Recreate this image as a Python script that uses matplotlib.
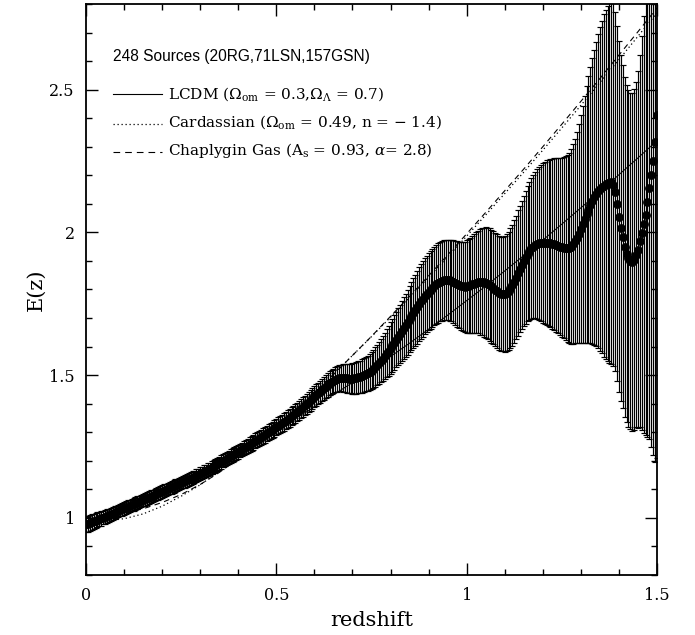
import matplotlib
matplotlib.use("Agg")
import matplotlib.pyplot as plt
import numpy as np
from matplotlib.ticker import MultipleLocator

# ---------------- data ----------------
z_step = 0.005  # reconstruction grid spacing in redshift

center = [
    0.978, 0.980, 0.983, 0.985, 0.988, 0.990, 0.993, 0.995, 0.998, 1.001,
    1.004, 1.006, 1.009, 1.012, 1.015, 1.018, 1.021, 1.024, 1.027, 1.030,
    1.033, 1.036, 1.039, 1.042, 1.045, 1.047, 1.050, 1.053, 1.056, 1.059,
    1.062, 1.065, 1.068, 1.071, 1.074, 1.077, 1.080, 1.083, 1.086, 1.089,
    1.092, 1.095, 1.098, 1.101, 1.104, 1.107, 1.110, 1.113, 1.116, 1.119,
    1.122, 1.125, 1.128, 1.131, 1.135, 1.138, 1.141, 1.144, 1.148, 1.151,
    1.155, 1.158, 1.162, 1.165, 1.169, 1.172, 1.176, 1.180, 1.184, 1.188,
    1.192, 1.196, 1.200, 1.204, 1.208, 1.212, 1.216, 1.220, 1.224, 1.228,
    1.232, 1.236, 1.240, 1.244, 1.248, 1.252, 1.257, 1.261, 1.265, 1.270,
    1.274, 1.278, 1.282, 1.287, 1.291, 1.296, 1.300, 1.305, 1.309, 1.314,
    1.318, 1.323, 1.327, 1.332, 1.336, 1.341, 1.346, 1.351, 1.356, 1.361,
    1.366, 1.371, 1.377, 1.382, 1.388, 1.394, 1.400, 1.406, 1.412, 1.418,
    1.424, 1.430, 1.436, 1.442, 1.448, 1.454, 1.460, 1.466, 1.471, 1.476,
    1.480, 1.484, 1.487, 1.489, 1.490, 1.490, 1.490, 1.489, 1.488, 1.488,
    1.488, 1.489, 1.490, 1.492, 1.494, 1.497, 1.500, 1.503, 1.507, 1.511,
    1.516, 1.522, 1.528, 1.535, 1.542, 1.550, 1.558, 1.567, 1.576, 1.585,
    1.595, 1.604, 1.614, 1.624, 1.634, 1.644, 1.654, 1.664, 1.675, 1.685,
    1.696, 1.706, 1.717, 1.727, 1.738, 1.748, 1.758, 1.767, 1.776, 1.784,
    1.792, 1.799, 1.806, 1.812, 1.818, 1.823, 1.827, 1.830, 1.832, 1.833,
    1.834, 1.833, 1.831, 1.828, 1.824, 1.820, 1.816, 1.813, 1.811, 1.810,
    1.811, 1.813, 1.815, 1.818, 1.821, 1.824, 1.826, 1.827, 1.827, 1.826,
    1.824, 1.821, 1.817, 1.812, 1.806, 1.800, 1.794, 1.789, 1.785, 1.784,
    1.784, 1.788, 1.795, 1.804, 1.815, 1.828, 1.842, 1.857, 1.872, 1.886,
    1.900, 1.913, 1.925, 1.935, 1.944, 1.950, 1.956, 1.959, 1.962, 1.963,
    1.964, 1.964, 1.964, 1.963, 1.962, 1.960, 1.958, 1.955, 1.953, 1.950,
    1.948, 1.946, 1.944, 1.944, 1.945, 1.950, 1.958, 1.969, 1.982, 1.996,
    2.012, 2.029, 2.046, 2.063, 2.080, 2.095, 2.110, 2.123, 2.134, 2.144,
    2.152, 2.159, 2.164, 2.168, 2.172, 2.174, 2.175, 2.167, 2.143, 2.100,
    2.055, 2.015, 1.985, 1.950, 1.925, 1.910, 1.900, 1.898, 1.905, 1.922,
    1.940, 1.970, 1.997, 2.028, 2.062, 2.105, 2.155, 2.200, 2.250, 2.315,
    2.410,
]

sigma = [
    0.029, 0.028, 0.028, 0.027, 0.027, 0.026, 0.026, 0.025, 0.025, 0.024,
    0.024, 0.024, 0.023, 0.023, 0.023, 0.023, 0.022, 0.022, 0.022, 0.022,
    0.022, 0.022, 0.022, 0.022, 0.022, 0.022, 0.022, 0.022, 0.022, 0.022,
    0.022, 0.022, 0.022, 0.022, 0.022, 0.022, 0.022, 0.022, 0.022, 0.022,
    0.022, 0.022, 0.022, 0.022, 0.022, 0.022, 0.022, 0.022, 0.022, 0.022,
    0.022, 0.022, 0.022, 0.022, 0.022, 0.022, 0.022, 0.022, 0.022, 0.022,
    0.022, 0.022, 0.022, 0.022, 0.022, 0.022, 0.022, 0.022, 0.023, 0.023,
    0.023, 0.023, 0.023, 0.023, 0.023, 0.023, 0.024, 0.024, 0.024, 0.024,
    0.024, 0.024, 0.024, 0.025, 0.025, 0.025, 0.025, 0.025, 0.026, 0.026,
    0.026, 0.026, 0.027, 0.027, 0.027, 0.027, 0.028, 0.028, 0.028, 0.029,
    0.029, 0.029, 0.030, 0.030, 0.030, 0.031, 0.031, 0.031, 0.032, 0.032,
    0.032, 0.033, 0.033, 0.033, 0.034, 0.034, 0.035, 0.035, 0.036, 0.036,
    0.037, 0.038, 0.038, 0.039, 0.039, 0.040, 0.040, 0.041, 0.042, 0.042,
    0.043, 0.044, 0.045, 0.046, 0.047, 0.048, 0.049, 0.050, 0.051, 0.052,
    0.053, 0.054, 0.055, 0.056, 0.057, 0.058, 0.059, 0.060, 0.061, 0.063,
    0.065, 0.067, 0.069, 0.071, 0.073, 0.075, 0.078, 0.081, 0.084, 0.087,
    0.090, 0.092, 0.095, 0.097, 0.100, 0.103, 0.105, 0.108, 0.110, 0.113,
    0.116, 0.119, 0.122, 0.125, 0.128, 0.130, 0.131, 0.132, 0.133, 0.134,
    0.135, 0.136, 0.137, 0.137, 0.138, 0.139, 0.139, 0.140, 0.140, 0.141,
    0.141, 0.142, 0.143, 0.145, 0.147, 0.150, 0.152, 0.154, 0.156, 0.158,
    0.162, 0.164, 0.167, 0.170, 0.172, 0.176, 0.180, 0.185, 0.188, 0.191,
    0.194, 0.196, 0.197, 0.198, 0.198, 0.199, 0.199, 0.200, 0.200, 0.201,
    0.203, 0.205, 0.207, 0.210, 0.212, 0.215, 0.217, 0.220, 0.222, 0.225,
    0.229, 0.233, 0.237, 0.241, 0.246, 0.250, 0.256, 0.262, 0.268, 0.274,
    0.280, 0.284, 0.288, 0.292, 0.295, 0.298, 0.301, 0.304, 0.307, 0.310,
    0.313, 0.317, 0.322, 0.328, 0.334, 0.341, 0.350, 0.358, 0.368, 0.382,
    0.398, 0.415, 0.432, 0.450, 0.467, 0.484, 0.500, 0.516, 0.533, 0.550,
    0.567, 0.583, 0.600, 0.612, 0.622, 0.630, 0.635, 0.635, 0.630, 0.622,
    0.615, 0.607, 0.600, 0.595, 0.590, 0.590, 0.590, 0.592, 0.596, 0.605,
    0.625, 0.650, 0.690, 0.730, 0.770, 0.820, 0.880, 0.950, 1.030, 1.120,
    1.200,
]

z_model = [0.00, 0.05, 0.10, 0.15, 0.20, 0.25, 0.30, 0.35, 0.40, 0.45,
           0.50, 0.55, 0.60, 0.65, 0.70, 0.75, 0.80, 0.85, 0.90, 0.95,
           1.00, 1.05, 1.10, 1.15, 1.20, 1.25, 1.30, 1.35, 1.40, 1.45, 1.50]
lcdm = [1.000, 1.023, 1.048, 1.075, 1.104, 1.134, 1.166, 1.199, 1.234, 1.271,
        1.309, 1.348, 1.389, 1.431, 1.474, 1.519, 1.565, 1.612, 1.661, 1.710,
        1.761, 1.812, 1.865, 1.919, 1.973, 2.029, 2.086, 2.143, 2.202, 2.261, 2.321]
cardassian = [1.000, 0.991, 0.997, 1.014, 1.041, 1.076, 1.116, 1.162, 1.212, 1.265,
              1.322, 1.380, 1.442, 1.504, 1.569, 1.635, 1.703, 1.772, 1.843, 1.914,
              1.987, 2.061, 2.136, 2.211, 2.288, 2.366, 2.445, 2.525, 2.605, 2.687, 2.769]
chaplygin = [1.000, 1.007, 1.017, 1.032, 1.054, 1.082, 1.117, 1.159, 1.207, 1.259,
             1.316, 1.375, 1.438, 1.502, 1.569, 1.636, 1.706, 1.776, 1.848, 1.921,
             1.995, 2.070, 2.146, 2.222, 2.300, 2.379, 2.459, 2.539, 2.621, 2.703, 2.786]

x_ticks = [0, 0.5, 1, 1.5]
x_ticklabels = ["0", "0.5", "1", "1.5"]
y_ticks = [1, 1.5, 2, 2.5]
y_ticklabels = ["1", "1.5", "2", "2.5"]

title_text = "248 Sources (20RG,71LSN,157GSN)"
legend_labels = [
    r"LCDM ($\Omega_{\rm om}$ = 0.3,$\Omega_{\Lambda}$ = 0.7)",
    r"Cardassian ($\Omega_{\rm om}$ = 0.49, n = $-$ 1.4)",
    r"Chaplygin Gas (A$_{\rm s}$ = 0.93, $\alpha$= 2.8)",
]

# ---------------- plot ----------------
plt.rcParams["font.family"] = ["DejaVu Serif"]
plt.rcParams["mathtext.fontset"] = "dejavuserif"

z = np.arange(len(center)) * z_step

fig = plt.figure(figsize=(6.95, 6.35), dpi=100)
ax = fig.add_axes([86 / 695, 60 / 635, 571 / 695, 571 / 635])

ax.errorbar(z, center, yerr=sigma, fmt="none", ecolor="black",
            elinewidth=0.85, capsize=2.2, capthick=0.85, zorder=2)
ax.plot(z_model, lcdm, "-", color="black", lw=0.7, zorder=3)
ax.plot(z_model, cardassian, color="black", lw=0.9, ls=(0, (1, 2.2)), zorder=3)
ax.plot(z_model, chaplygin, color="black", lw=0.8, ls=(0, (5, 4)), zorder=3)
ax.plot(z, center, "o", color="black", ms=5.3, zorder=4)

ax.set_xlim(0, 1.5)
ax.set_ylim(0.8, 2.8)
ax.set_xticks(x_ticks)
ax.set_xticklabels(x_ticklabels)
ax.set_yticks(y_ticks)
ax.set_yticklabels(y_ticklabels)
ax.xaxis.set_minor_locator(MultipleLocator(0.1))
ax.yaxis.set_minor_locator(MultipleLocator(0.1))
ax.tick_params(which="both", direction="in", top=True, right=True, width=1.0)
ax.tick_params(which="major", length=8.6, labelsize=11.5)
ax.tick_params(which="minor", length=4.3)
ax.tick_params(axis="x", which="major", pad=9.0)
ax.tick_params(axis="y", which="major", pad=8.0)
for s in ax.spines.values():
    s.set_linewidth(1.3)

ax.set_xlabel("redshift", fontsize=15, labelpad=5)
ax.set_ylabel("E(z)", fontsize=15, labelpad=3)

# legend block (drawn in axes coordinates)
ax.text(0.0473, 0.9007, title_text, transform=ax.transAxes,
        family=["Liberation Sans", "DejaVu Sans"], fontsize=11.2, va="baseline")
row_text_y = [0.8347, 0.7851, 0.7355]
row_line_y = [0.8424, 0.7898, 0.7413]
styles = [dict(ls="-", lw=0.8), dict(ls=(0, (1, 2.2)), lw=0.9), dict(ls=(0, (6, 4.5)), lw=0.8)]
for lab, ty, ly, st in zip(legend_labels, row_text_y, row_line_y, styles):
    ax.plot([0.0473, 0.1331], [ly, ly], transform=ax.transAxes, color="black", **st)
    ax.text(0.1436, ty, lab, transform=ax.transAxes, fontsize=11, va="baseline")

fig.savefig("out.png", dpi=100)
